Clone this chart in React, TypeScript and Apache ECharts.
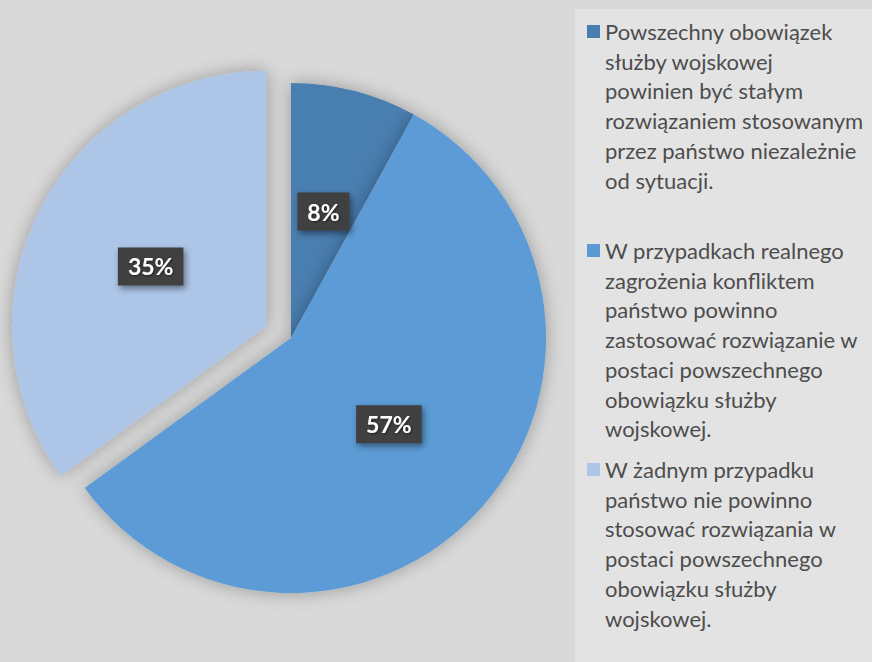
import React, { useEffect, useRef } from "react";
import * as echarts from "echarts";

const categories = [
  "Powszechny obowiązek służby wojskowej powinien być stałym rozwiązaniem stosowanym przez państwo niezależnie od sytuacji.",
  "W przypadkach realnego zagrożenia konfliktem państwo powinno zastosować rozwiązanie w postaci powszechnego obowiązku służby wojskowej.",
  "W żadnym przypadku państwo nie powinno stosować rozwiązania w postaci powszechnego obowiązku służby wojskowej.",
];
const values = [8, 57, 35];
const legendLines = [
  ["Powszechny obowiązek", "służby wojskowej", "powinien być stałym", "rozwiązaniem stosowanym", "przez państwo niezależnie", "od sytuacji."],
  ["W przypadkach realnego", "zagrożenia konfliktem", "państwo powinno", "zastosować rozwiązanie w", "postaci powszechnego", "obowiązku służby", "wojskowej."],
  ["W żadnym przypadku", "państwo nie powinno", "stosować rozwiązania w", "postaci powszechnego", "obowiązku służby", "wojskowej."],
];
const colors = ["#497eb0", "#5b9bd5", "#adc5e7"];
const explodedIndex = 2;

export default function App() {
  const ref = useRef<HTMLDivElement>(null);
  useEffect(() => {
    const chart = echarts.init(ref.current!, null, { renderer: "svg" });
    const lh = 29.7;
    const icon = 13;
    const iconTops = [25, 244, 463];
    const legends = categories.map((name, i) => {
      const n = legendLines[i].length;
      const pad = new Array(n - 1).fill(" ");
      return {
        data: [name],
        left: 587,
        top: iconTops[i] + icon / 2 - ((2 * n - 1) * lh) / 2,
        orient: "vertical",
        padding: 0,
        itemWidth: icon,
        itemHeight: icon,
        itemGap: 0,
        icon: "rect",
        selectedMode: false,
        formatter: () => pad.concat(legendLines[i]).join("\n"),
        textStyle: {
          fontFamily: "Lato",
          fontSize: 22,
          color: "#4d4d4d",
          lineHeight: lh,
        },
      };
    });
    chart.setOption({
      animation: false,
      backgroundColor: "#d9d9d9",
      color: colors,
      graphic: [
        {
          type: "rect",
          silent: true,
          z: 0,
          shape: { x: 575, y: 9, width: 297, height: 653 },
          style: { fill: "#e3e3e3" },
        },
      ],
      legend: legends,
      series: [
        {
          type: "pie",
          center: [291, 338],
          radius: 255,
          startAngle: 90,
          clockwise: true,
          selectedMode: "single",
          selectedOffset: 27,
          emphasis: { disabled: true },
          itemStyle: {
            shadowBlur: 18,
            shadowColor: "rgba(0,0,0,0.3)",
          },
          label: {
            show: true,
            position: "inside",
            formatter: (p: any) => p.value + "%",
            fontFamily: "Lato",
            fontWeight: "bold",
            fontSize: 23,
            color: "#ffffff",
            backgroundColor: "#3f3f3f",
            padding: [8, 10, 7, 10],
            shadowBlur: 6,
            shadowOffsetX: 2,
            shadowOffsetY: 3,
            shadowColor: "rgba(0,0,0,0.45)",
            textShadowBlur: 2,
            textShadowColor: "rgba(0,0,0,0.5)",
            textShadowOffsetX: 1,
            textShadowOffsetY: 1,
          },
          labelLine: { show: false },
          data: categories.map((name, i) => ({
            name,
            value: values[i],
            selected: i === explodedIndex,
          })),
        },
      ],
    });
    return () => chart.dispose();
  }, []);
  return (
    <div
      ref={ref}
      style={{ position: "fixed", left: 0, top: 0, width: 872, height: 662 }}
    />
  );
}
